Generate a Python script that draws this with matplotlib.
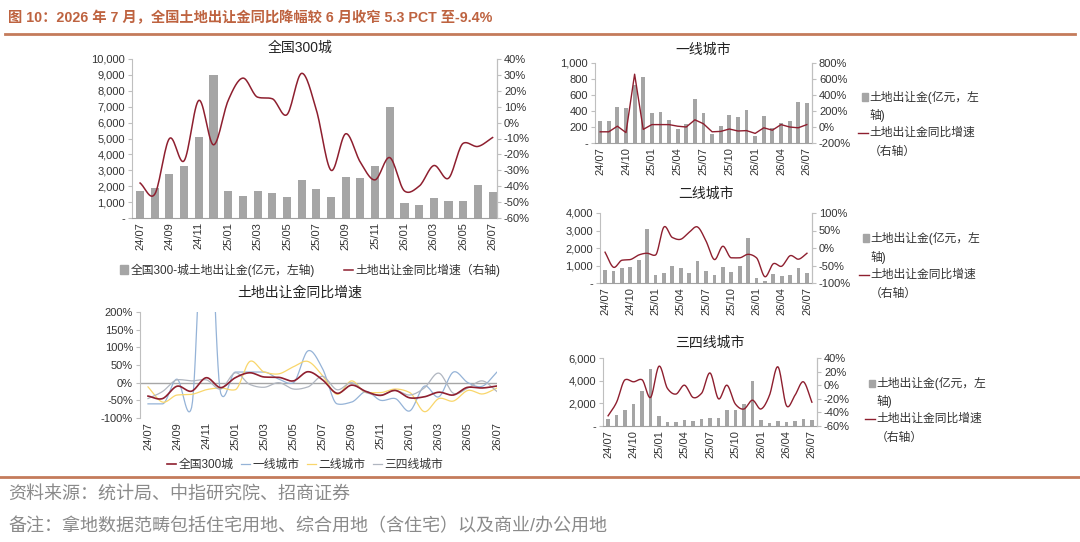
import numpy as np
import matplotlib
matplotlib.use('Agg')
import matplotlib.pyplot as plt
from matplotlib.patches import Patch, Rectangle
from matplotlib.lines import Line2D
from matplotlib.ticker import FuncFormatter

plt.rcParams['font.family'] = ['Liberation Sans', 'Noto Sans CJK SC']
plt.rcParams['axes.unicode_minus'] = False

W, H = 1080, 542

# months 24/07 .. 26/07
months = ['24/07', '24/08', '24/09', '24/10', '24/11', '24/12',
          '25/01', '25/02', '25/03', '25/04', '25/05', '25/06',
          '25/07', '25/08', '25/09', '25/10', '25/11', '25/12',
          '26/01', '26/02', '26/03', '26/04', '26/05', '26/06', '26/07']

# 全国300城 (亿元, %)
nat_amt = [1700, 1900, 2750, 3300, 5100, 9000, 1700, 1400, 1700, 1600, 1300, 2400,
           1850, 1350, 2550, 2500, 3250, 6950, 950, 800, 1250, 1050, 1100, 2050, 1650]
nat_yoy = [-38, -45, -10, -24, 14, -14, 14, 28, 16, 15, 5, 31,
           8, -30, -7, -25, -36, -22, -43, -40, -27, -35, -13, -15, -9.4]

# 一线城市
t1_amt = [280, 270, 450, 440, 720, 820, 370, 390, 290, 180, 240, 550,
          380, 110, 210, 350, 330, 410, 90, 340, 190, 250, 270, 510, 500]
t1_yoy = [-60, -60, 10, -70, 660, -30, 30, 30, 30, 10, 0, 90,
          40, -60, -55, -25, -50, -45, -80, -10, -40, 30, 0, -10, 30]

# 二线城市
t2_amt = [750, 680, 850, 930, 1330, 3100, 430, 580, 1000, 850, 550, 1250,
          680, 430, 920, 650, 980, 2570, 280, 100, 530, 420, 430, 870, 580]
t2_yoy = [-12, -55, -35, -33, -20, -15, -20, 60, 30, 25, 45, 60,
          20, -33, 5, -28, -28, -18, -28, -82, -45, -52, -22, -32, -15]

# 三四线城市
t34_amt = [600, 950, 1400, 1900, 3050, 5050, 850, 350, 350, 500, 450, 600,
           700, 700, 1400, 1450, 1950, 3950, 550, 280, 450, 350, 400, 620, 520]
t34_yoy = [-45, -25, 8, 5, 8, -18, 28, -5, -13, 0, -18, -12,
           18, -20, 0, -28, -35, -22, -35, -15, 27, -30, -15, 5, -25]

BAR = '#A5A5A5'
RED = '#8E1F2F'
BLUE = '#95B3D7'
YELLOW = '#F9D66B'
GREY = '#B0B6C0'
TXT = '#333333'
AXC = '#BFBFBF'
BROWN = '#BE6340'


def smooth(y, n=16):
    # catmull-rom style smoothing like excel's smoothed line, tangents clamped
    y = np.asarray(y, float)
    x = np.arange(len(y), dtype=float)
    py = np.concatenate([[2 * y[0] - y[1]], y, [2 * y[-1] - y[-2]]])
    m = (py[2:] - py[:-2]) / 2
    d1 = np.abs(py[1:-1] - py[:-2])
    d2 = np.abs(py[2:] - py[1:-1])
    lim = 2 * np.minimum(d1, d2) + 1
    m = np.clip(m, -lim, lim)
    xs, ys = [], []
    t = np.linspace(0, 1, n, endpoint=False)
    h00 = 2 * t**3 - 3 * t**2 + 1
    h10 = t**3 - 2 * t**2 + t
    h01 = -2 * t**3 + 3 * t**2
    h11 = t**3 - t**2
    for i in range(len(y) - 1):
        ys.append(h00 * y[i] + h10 * m[i] + h01 * y[i + 1] + h11 * m[i + 1])
        xs.append(x[i] + t)
    xs.append([x[-1]])
    ys.append([y[-1]])
    return np.concatenate(xs), np.concatenate(ys)


def px_axes(l, t, r, b):
    return fig.add_axes([l / W, 1 - b / H, (r - l) / W, (b - t) / H])


def ftext(px, py, s, **kw):
    return fig.text(px / W, 1 - py / H, s, **kw)


def style_axes(ax, ax2=None):
    ax.spines['top'].set_visible(False)
    ax.spines['left'].set_color(AXC)
    ax.spines['right'].set_color(AXC)
    ax.spines['bottom'].set_color('#A0A0A0')
    ax.tick_params(axis='y', colors=TXT, labelsize=8, length=3, color=AXC, pad=2)
    ax.tick_params(axis='x', colors=TXT, labelsize=8, length=0, pad=3)
    if ax2 is not None:
        ax2.spines['top'].set_visible(False)
        ax2.spines['left'].set_visible(False)
        ax2.spines['bottom'].set_visible(False)
        ax2.spines['right'].set_color(AXC)
        ax2.tick_params(axis='y', colors=TXT, labelsize=8, length=3, color=AXC, pad=2)


amt_fmt = FuncFormatter(lambda v, p: '-' if v == 0 else f'{v:,.0f}')
pct_fmt = FuncFormatter(lambda v, p: f'{v:.0f}%')
x = np.arange(len(months))

fig = plt.figure(figsize=(W / 100, H / 100), dpi=100)

# header / footer
ftext(8, 18, '图 10：2026 年 7 月，全国土地出让金同比降幅较 6 月收窄 5.3 PCT 至-9.4%',
      color=BROWN, fontsize=10.3, fontweight='bold', va='center', ha='left')
fig.add_artist(Line2D([5 / W, 1075 / W], [1 - 34 / H, 1 - 34 / H], color='#C47B5B', lw=2))
fig.add_artist(Line2D([0, 1], [1 - 477 / H, 1 - 477 / H], color='#C47B5B', lw=2))
ftext(8, 494, '资料来源：统计局、中指研究院、招商证券', color='#8A8A8A',
      fontsize=13, va='center', ha='left')
ftext(8, 527, '备注：拿地数据范畴包括住宅用地、综合用地（含住宅）以及商业/办公用地',
      color='#8A8A8A', fontsize=13, va='center', ha='left')

# ---- 全国300城 ----
ax = px_axes(132, 59, 497, 218)
ax2 = ax.twinx()
ax.bar(x, nat_amt, width=0.55, color=BAR)
sx, sy = smooth(nat_yoy)
ax2.plot(sx, sy, color=RED, lw=1.1)
ax.set_ylim(0, 10000)
ax.set_yticks(np.arange(0, 10001, 1000))
ax.yaxis.set_major_formatter(amt_fmt)
ax2.set_ylim(-60, 40)
ax2.set_yticks(np.arange(-60, 41, 10))
ax2.yaxis.set_major_formatter(pct_fmt)
ax.set_xlim(-0.55, 24.3)
ax.set_xticks(x[::2])
ax.set_xticklabels(months[::2], rotation=90)
style_axes(ax, ax2)
ftext(300, 48, '全国300城', fontsize=10, ha='center', va='center', color='#222222')
h1 = Patch(color=BAR, label='全国300-城土地出让金(亿元，左轴)')
h2 = Line2D([], [], color=RED, lw=1.1, label='土地出让金同比增速（右轴)')
fig.legend(handles=[h1, h2], loc='center', bbox_to_anchor=(310 / W, 1 - 270 / H), ncol=2,
           frameon=False, fontsize=8.5, handlelength=0.7, handleheight=0.7,
           handletextpad=0.2, columnspacing=2.5, labelcolor=TXT)

# ---- 土地出让金同比增速 ----
ax = px_axes(140, 312, 497, 418)
for yy, c, lab, lw in [(nat_yoy, RED, '全国300城', 1.2), (t1_yoy, BLUE, '一线城市', 0.9),
                       (t2_yoy, YELLOW, '二线城市', 0.9), (t34_yoy, GREY, '三四线城市', 0.9)]:
    sx, sy = smooth(yy)
    ax.plot(sx, sy, color=c, lw=lw, label=lab, zorder=3 if c == RED else 2)
ax.axhline(0, color='#A6A6A6', lw=1, zorder=1)
ax.set_ylim(-100, 200)
ax.set_yticks(np.arange(-100, 201, 50))
ax.yaxis.set_major_formatter(pct_fmt)
ax.set_xlim(-0.55, 24.0)
ax.set_xticks(x[::2])
ax.set_xticklabels(months[::2], rotation=90)
style_axes(ax)
ax.spines['bottom'].set_visible(False)
ax.spines['right'].set_visible(False)
ftext(300, 293, '土地出让金同比增速', fontsize=10, ha='center', va='center', color='#222222')
ax.legend(loc='center', bbox_to_anchor=(305 / W, 1 - 465 / H), bbox_transform=fig.transFigure,
          ncol=4, frameon=False, fontsize=8.5, handlelength=0.8, handletextpad=0.2,
          columnspacing=0.6, labelcolor=TXT)

# ---- right side: tiers ----
# name, amounts, yoy, axes box (px), title y, left ticks, right ticks, legend x, legend row ys, smoothed
tiers = [
    ('一线城市', t1_amt, t1_yoy, (595, 63, 812, 143), 50, (0, 1000, 200), (-200, 800, 200),
     862, (97, 115, 133, 152), False),
    ('二线城市', t2_amt, t2_yoy, (600, 213, 812, 283), 194, (0, 4000, 1000), (-100, 100, 50),
     863, (238, 257, 275, 294), True),
    ('三四线城市', t34_amt, t34_yoy, (603, 358, 817, 426), 343, (0, 6000, 2000), (-60, 40, 20),
     869, (383, 401, 419, 438), True),
]
for name, amt, yoy, box, ty, lt, rt, lx, rows, smoothed in tiers:
    ax = px_axes(*box)
    ax2 = ax.twinx()
    ax.bar(x, amt, width=0.45, color=BAR)
    if smoothed:
        sx, sy = smooth(yoy)
    else:
        sx, sy = x, yoy
    ax2.plot(sx, sy, color=RED, lw=1.0)
    ax.set_ylim(lt[0], lt[1])
    ax.set_yticks(np.arange(lt[0], lt[1] + 1, lt[2]))
    ax.yaxis.set_major_formatter(amt_fmt)
    ax2.set_ylim(rt[0], rt[1])
    ax2.set_yticks(np.arange(rt[0], rt[1] + 1, rt[2]))
    ax2.yaxis.set_major_formatter(pct_fmt)
    ax.set_xlim(-0.6, 24.6)
    ax.set_xticks(x[::3])
    ax.set_xticklabels(months[::3], rotation=90)
    style_axes(ax, ax2)
    ftext((box[0] + box[2]) / 2, ty, name, fontsize=10, ha='center', va='center', color='#222222')
    # legend drawn by hand so the marker sits on the first text row
    fig.add_artist(Rectangle((lx / W, 1 - (rows[0] + 3.5) / H), 6 / W, 7 / H, color=BAR))
    ftext(lx + 7, rows[0], '土地出让金(亿元，左', fontsize=8.5, va='center', color=TXT)
    ftext(lx + 7, rows[1], '轴)', fontsize=8.5, va='center', color=TXT)
    fig.add_artist(Line2D([(lx - 4) / W, (lx + 6) / W], [1 - rows[2] / H, 1 - rows[2] / H],
                          color=RED, lw=1.0))
    ftext(lx + 7, rows[2], '土地出让金同比增速', fontsize=8.5, va='center', color=TXT)
    ftext(lx + 7, rows[3], '（右轴）', fontsize=8.5, va='center', color=TXT)

fig.savefig('out.png', dpi=100)
